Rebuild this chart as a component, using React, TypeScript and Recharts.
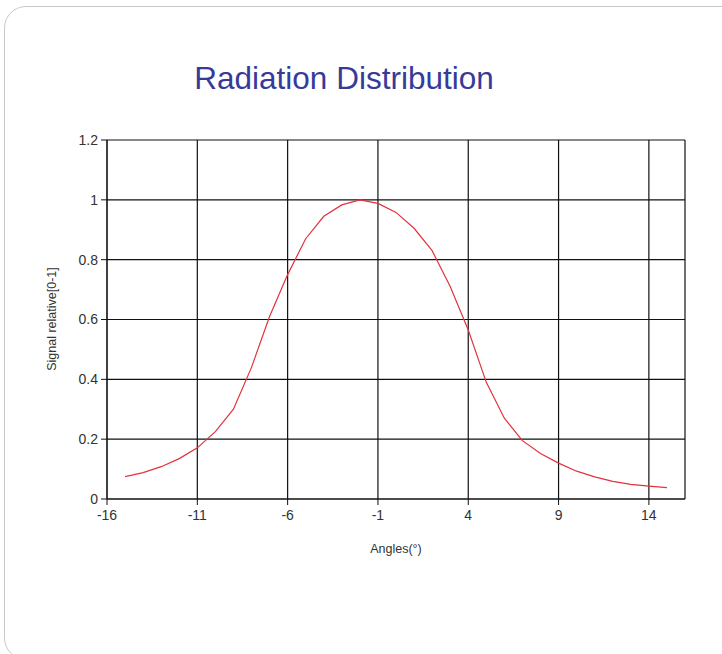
import { CartesianGrid, Line, LineChart, XAxis, YAxis } from 'recharts'

const angles = [
  -15, -14, -13, -12, -11, -10, -9, -8, -7, -6, -5, -4, -3, -2, -1, 0, 1, 2, 3, 4, 5, 6, 7, 8, 9, 10,
  11, 12, 13, 14, 15,
]
const signal = [
  0.075, 0.088, 0.108, 0.135, 0.171, 0.225, 0.3, 0.44, 0.61, 0.75, 0.87, 0.945, 0.983, 1.0, 0.988,
  0.958, 0.905, 0.83, 0.71, 0.565, 0.39, 0.27, 0.195, 0.152, 0.12, 0.093, 0.074, 0.059, 0.049,
  0.043, 0.038,
]
const xTicks = [-16, -11, -6, -1, 4, 9, 14]
const yTicks = [0, 0.2, 0.4, 0.6, 0.8, 1, 1.2]

const data = angles.map((angle, i) => ({ angle, signal: signal[i] }))

const tickStyle = { fill: '#333', fontSize: 14, fontFamily: 'Liberation Sans, Arial, sans-serif' }

export default function App() {
  return (
    <div
      style={{
        position: 'absolute',
        left: 0,
        top: 0,
        width: 722,
        height: 654,
        overflow: 'hidden',
        background: '#fff',
        fontFamily: 'Liberation Sans, Arial, sans-serif',
      }}
    >
      <div
        style={{
          position: 'absolute',
          left: 4,
          top: 6,
          width: 740,
          height: 652,
          border: '1px solid #c9c9c9',
          borderRadius: 22,
        }}
      />
      <div
        style={{
          position: 'absolute',
          left: 144,
          width: 400,
          top: 60,
          textAlign: 'center',
          fontSize: 31.5,
          color: '#363b99',
          lineHeight: '36px',
        }}
      >
        Radiation Distribution
      </div>

      <div style={{ position: 'absolute', left: 0, top: 0 }}>
        <LineChart
          width={722}
          height={654}
          data={data}
          margin={{ top: 140, right: 37, bottom: 125, left: 47 }}
        >
          <CartesianGrid stroke="#111" strokeWidth={1.2} />
          <XAxis
            dataKey="angle"
            type="number"
            domain={[-16, 16]}
            ticks={xTicks}
            interval={0}
            height={30}
            tickSize={6}
            tickMargin={5}
            tick={tickStyle}
            stroke="#111"
            axisLine={{ stroke: '#111' }}
            tickLine={{ stroke: '#111' }}
          />
          <YAxis
            type="number"
            domain={[0, 1.2]}
            ticks={yTicks}
            interval={0}
            width={60}
            tickSize={6}
            tickMargin={3}
            tick={tickStyle}
            stroke="#111"
            axisLine={{ stroke: '#111' }}
            tickLine={{ stroke: '#111' }}
          />
          <Line
            type="linear"
            dataKey="signal"
            stroke="#e2323d"
            strokeWidth={1.2}
            dot={false}
            isAnimationActive={false}
          />
        </LineChart>
      </div>

      <div
        style={{
          position: 'absolute',
          left: 296,
          width: 200,
          top: 542,
          textAlign: 'center',
          fontSize: 12.5,
          color: '#333',
        }}
      >
        Angles(°)
      </div>
      <div
        style={{
          position: 'absolute',
          left: 52 - 100,
          top: 319 - 8,
          width: 200,
          height: 16,
          lineHeight: '16px',
          textAlign: 'center',
          fontSize: 12.5,
          color: '#333',
          transform: 'rotate(-90deg)',
        }}
      >
        Signal relative[0-1]
      </div>
    </div>
  )
}
